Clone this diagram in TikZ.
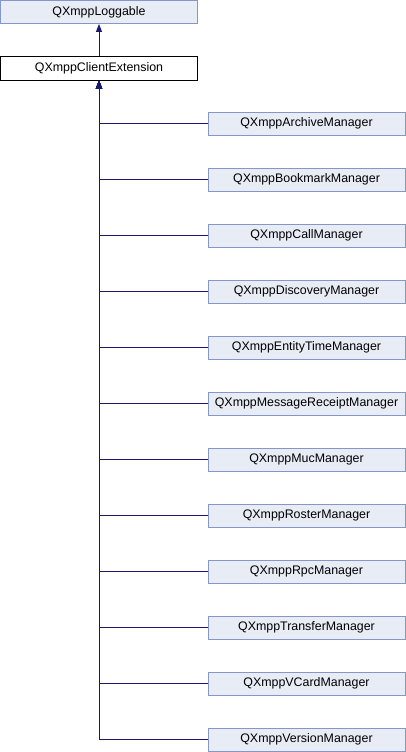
\documentclass[tikz,border=0pt]{standalone}
\usepackage{fontspec}
\setmainfont{Liberation Sans}
\usetikzlibrary{arrows.meta}
\definecolor{edgeblue}{HTML}{191970}
\definecolor{boxfill}{HTML}{E8ECF5}
\definecolor{boxdraw}{HTML}{8497C8}
\begin{document}
\begin{tikzpicture}[x=1pt,y=1pt,
  cls/.style={draw=boxdraw,fill=boxfill,line width=1pt,minimum width=197pt,minimum height=23pt,inner sep=0pt,font=\fontsize{12.4}{14}\selectfont,text=black},
  cur/.style={cls,draw=black,fill=white},
  inh/.style={draw=edgeblue,line width=1pt,-{Triangle[width=6pt,length=8pt]}}]
\useasboundingbox (0,0) rectangle (406,-752);
\node[cls] (log) at (99,-12) {QXmppLoggable};
\node[cur] (ext) at (99,-68.5) {QXmppClientExtension};
\foreach \n/\t [count=\i from 0] in {c0/QXmppArchiveManager,c1/QXmppBookmarkManager,c2/QXmppCallManager,c3/QXmppDiscoveryManager,c4/QXmppEntityTimeManager,c5/QXmppMessageReceiptManager,c6/QXmppMucManager,c7/QXmppRosterManager,c8/QXmppRpcManager,c9/QXmppTransferManager,c10/QXmppVCardManager,c11/QXmppVersionManager}{
  \node[cls] (\n) at (306.5,{-123.5-56*\i}) {\t};
}
\draw[inh] (ext) -- (log);
\foreach \n in {c0,c1,c2,c3,c4,c5,c6,c7,c8,c9,c10,c11}{
  \draw[inh] (\n.west) -| (ext.south);
}
\end{tikzpicture}
\end{document}
